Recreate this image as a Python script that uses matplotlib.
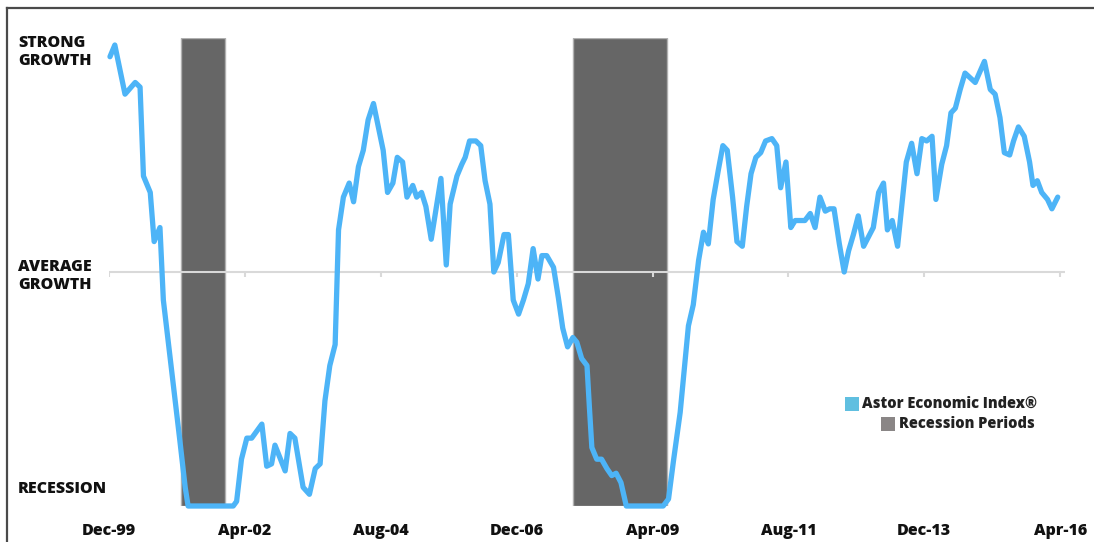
import matplotlib
matplotlib.use("Agg")
import matplotlib.pyplot as plt
from matplotlib.patches import Rectangle
from matplotlib.lines import Line2D

plt.rcParams['font.family'] = ['Open Sans', 'DejaVu Sans']

# meses desde Dic-1999 y valor del indice (0 = recesion, 1 = media, 2 = fuerte)
months = [0.2, 1.2, 3.3, 5.4, 6.4, 7.1, 8.5, 9.3, 10.5, 11.2, 14.6, 15.7, 16.3,
          25.6, 26.3, 27.3, 28.4, 29.4, 31.5, 32.5, 33.5, 34.2, 36.3, 37.3, 38.3,
          40.0, 41.3, 42.5, 43.5, 44.5, 45.5, 46.6, 47.3, 48.3, 49.5, 50.4, 51.4,
          52.4, 53.4, 54.5, 55.5, 56.5, 57.4, 58.5, 59.4, 60.5, 61.4, 62.6, 63.4,
          64.4, 65.3, 66.4, 68.4, 69.5, 70.3, 71.7, 72.7, 73.4, 74.3, 75.6, 76.6,
          77.5, 78.5, 79.3, 80.2, 81.4, 82.3, 83.3, 84.4, 85.4, 86.4, 87.4, 88.4,
          89.2, 90.2, 91.6, 92.6, 93.5, 94.5, 95.6, 96.4, 97.4, 98.5, 99.0, 99.5,
          100.5, 101.5, 102.6, 103.6, 104.5, 105.5, 106.6, 114.2, 115.3, 116.3,
          117.7, 119.4, 120.4, 121.5, 122.5, 123.5, 124.5, 125.6, 126.5, 127.4,
          128.5, 129.4, 130.5, 131.4, 132.3, 133.3, 134.3, 135.3, 136.6, 137.6,
          138.4, 139.5, 140.5, 141.4, 142.8, 143.4, 144.5, 145.5, 146.5, 147.6,
          148.5, 149.4, 150.5, 151.5, 152.4, 153.4, 154.4, 155.5, 156.5, 157.5,
          158.6, 159.6, 160.4, 161.4, 162.5, 164.3, 165.4, 166.5, 167.5, 168.5,
          169.6, 170.4, 171.6, 172.6, 173.5, 174.4, 175.4, 176.4, 178.5, 180.4,
          181.6, 182.6, 183.6, 184.5, 185.6, 186.4, 187.4, 188.6, 189.7, 190.4,
          191.3, 192.2, 193.4, 194.3, 195.5]
index_values = [1.92, 1.97, 1.76, 1.81, 1.79, 1.41, 1.34, 1.13, 1.19, 0.88, 0.28, 0.08, 0.0,
                0.0, 0.02, 0.20, 0.29, 0.29, 0.35, 0.17, 0.18, 0.26, 0.15, 0.31, 0.29,
                0.08, 0.05, 0.16, 0.18, 0.45, 0.60, 0.69, 1.18, 1.32, 1.38, 1.30, 1.45,
                1.52, 1.65, 1.72, 1.62, 1.52, 1.34, 1.38, 1.49, 1.47, 1.32, 1.37, 1.32,
                1.34, 1.28, 1.14, 1.40, 1.03, 1.29, 1.41, 1.46, 1.49, 1.56, 1.56, 1.54,
                1.39, 1.29, 1.00, 1.04, 1.16, 1.16, 0.88, 0.82, 0.88, 0.95, 1.10, 0.97,
                1.07, 1.07, 1.02, 0.89, 0.76, 0.68, 0.72, 0.70, 0.63, 0.60, 0.42, 0.25,
                0.20, 0.20, 0.16, 0.13, 0.14, 0.10, 0.0, 0.0, 0.03, 0.19,
                0.40, 0.77, 0.86, 1.05, 1.17, 1.12, 1.31, 1.44, 1.54, 1.52,
                1.32, 1.13, 1.11, 1.28, 1.42, 1.49, 1.51, 1.56, 1.57, 1.54,
                1.36, 1.47, 1.19, 1.22, 1.22, 1.22, 1.25, 1.19, 1.32, 1.26,
                1.27, 1.27, 1.12, 1.00, 1.09, 1.16, 1.24, 1.11, 1.15, 1.19,
                1.34, 1.38, 1.18, 1.22, 1.11, 1.47, 1.55, 1.42, 1.57, 1.56,
                1.58, 1.31, 1.46, 1.54, 1.68, 1.70, 1.78, 1.85, 1.81, 1.90,
                1.78, 1.76, 1.66, 1.51, 1.50, 1.56, 1.62, 1.58, 1.47, 1.37,
                1.39, 1.34, 1.31, 1.27, 1.32]

# recesiones (NBER): Mar-2001 a Nov-2001, Dic-2007 a Jun-2009
recession_start = [14.8, 95.7]
recession_end = [23.9, 115.0]

tick_months = [0, 28, 56, 84, 112, 140, 168, 196]
tick_labels = ['Dec-99', 'Apr-02', 'Aug-04', 'Dec-06', 'Apr-09', 'Aug-11', 'Dec-13', 'Apr-16']

level_values = [1.94, 0.983, 0.073]
level_labels = ['STRONG\nGROWTH', 'AVERAGE\nGROWTH', 'RECESSION']

line_color = '#4db4f7'
bar_color = '#666666'
text_w = 800

fig = plt.figure(figsize=(10.94, 5.42), dpi=100)
ax = fig.add_axes([109 / 1094, 36 / 542, 956 / 1094, 468 / 542])
ax.set_xlim(0, 197)
ax.set_ylim(0, 2)

for s, e in zip(recession_start, recession_end):
    ax.axvspan(s, e, ymin=0, ymax=1, facecolor=bar_color, edgecolor='#b0b0b0',
               linewidth=1, zorder=1)

ax.axhline(1, color='#d9d9d9', linewidth=1.5, zorder=2)
ax.vlines(tick_months, 1 - 5 / 234, 1, color='#d9d9d9', linewidth=1.5, zorder=2)

ax.plot(months, index_values, color=line_color, linewidth=3.8,
        solid_joinstyle='round', solid_capstyle='round', zorder=3, clip_on=False)

ax.set_xticks(tick_months)
ax.set_xticklabels(tick_labels, fontsize=11.5, fontweight=text_w, color='#111111')
ax.tick_params(axis='x', length=0, pad=12)
ax.set_yticks([])
for sp in ax.spines.values():
    sp.set_visible(False)

for v, lab in zip(level_values, level_labels):
    ax.text(-91 / 956, v, lab, transform=ax.get_yaxis_transform(), ha='left',
            va='center', fontsize=11.5, fontweight=text_w, color='#111111',
            linespacing=1.15)

# leyenda manual
fig.patches.append(Rectangle((845 / 1094, 1 - 411 / 542), 14 / 1094, 14 / 542,
                             transform=fig.transFigure, facecolor='#60bfe0',
                             edgecolor='none'))
fig.text(862 / 1094, 1 - 404 / 542, 'Astor Economic Index®', ha='left', va='center',
         fontsize=10.5, fontweight=text_w, color='#222222')
fig.patches.append(Rectangle((881 / 1094, 1 - 431 / 542), 14 / 1094, 14 / 542,
                             transform=fig.transFigure, facecolor='#8a8686',
                             edgecolor='none'))
fig.text(899 / 1094, 1 - 424 / 542, 'Recession Periods', ha='left', va='center',
         fontsize=10.5, fontweight=text_w, color='#222222')

# marco
fig.add_artist(Line2D([7 / 1094, 1], [1 - 7.5 / 542, 1 - 7.5 / 542],
                      transform=fig.transFigure, color='#4a4a4a', linewidth=1.6))
fig.add_artist(Line2D([6.5 / 1094, 6.5 / 1094], [0, 1 - 7.5 / 542],
                      transform=fig.transFigure, color='#4a4a4a', linewidth=1.6))

fig.savefig('out.png', dpi=100)
